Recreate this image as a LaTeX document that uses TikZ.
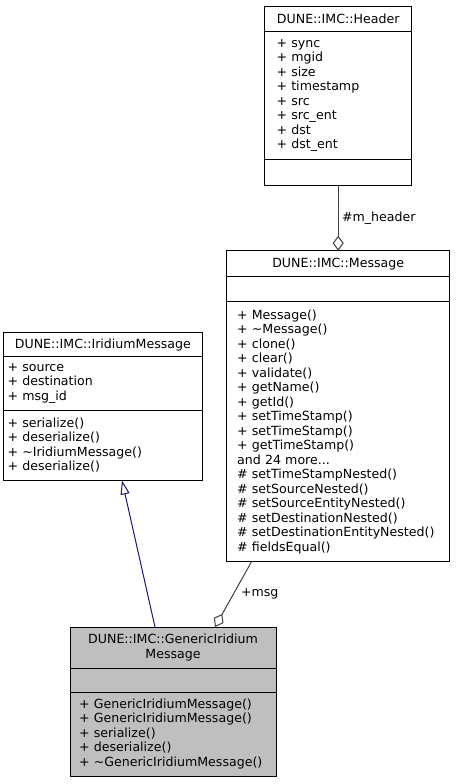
\documentclass[tikz,border=0pt]{standalone}
\usepackage{fontspec}
\setmainfont{DejaVu Sans}
\usetikzlibrary{positioning,arrows.meta}
\definecolor{edgegray}{HTML}{404040}
\definecolor{genblue}{HTML}{191970}
\definecolor{classgray}{HTML}{BFBFBF}
\newcommand{\umlfont}{\fontsize{12.6}{14.5}\selectfont}

\begin{document}
\begin{tikzpicture}[x=1pt, y=-1pt, >=Latex,
  part/.style={draw, fill=white, font=\umlfont, outer sep=0pt, inner ysep=0pt, line width=1pt, align=left},
  hdrpart/.style={part, text width=123.3pt, inner xsep=12pt},
  msgpart/.style={part, text width=202.2pt, inner xsep=10.5pt},
  irdpart/.style={part, text width=190.8pt, inner xsep=4pt},
  genpart/.style={part, fill=classgray, text width=188pt, inner xsep=9pt},
  lbl/.style={font=\umlfont},
  aggr/.style={draw=edgegray, line width=1pt},
  genl/.style={draw=genblue, line width=1pt, -{Triangle[fill=white, length=14pt, width=9pt]}}]
  \useasboundingbox (0,0) rectangle (455,784);
  % DUNE::IMC::Header
  \node[hdrpart, align=center, minimum height=25pt] (hdrT) at (338.2,19.2) {DUNE::IMC::Header};
  \node[hdrpart, minimum height=127.6pt, below=0pt of hdrT] (hdrA) {+ sync\\+ mgid\\+ size\\+ timestamp\\+ src\\+ src\_ent\\+ dst\\+ dst\_ent};
  \node[hdrpart, minimum height=25.7pt, below=0pt of hdrA] (hdrM) {};
  % DUNE::IMC::Message
  \node[msgpart, align=center, minimum height=26pt, below=65.7pt of hdrM] (msgT) {DUNE::IMC::Message};
  \node[msgpart, minimum height=25pt, below=0pt of msgT] (msgA) {};
  \node[msgpart, minimum height=260pt, below=0pt of msgA] (msgM) {+ Message()\\+ \textasciitilde Message()\\+ clone()\\+ clear()\\+ validate()\\+ getName()\\+ getId()\\+ setTimeStamp()\\+ setTimeStamp()\\+ getTimeStamp()\\and 24 more...\\\# setTimeStampNested()\\\# setSourceNested()\\\# setSourceEntityNested()\\\# setDestinationNested()\\\# setDestinationEntityNested()\\\# fieldsEqual()};
  % DUNE::IMC::IridiumMessage
  \node[irdpart, align=center, minimum height=24pt] (irdT) at (102.9,344.7) {DUNE::IMC::IridiumMessage};
  \node[irdpart, minimum height=53.3pt, below=0pt of irdT] (irdA) {+ source\\+ destination\\+ msg\_id};
  \node[irdpart, minimum height=70.5pt, below=0pt of irdA] (irdM) {+ serialize()\\+ deserialize()\\+ \textasciitilde IridiumMessage()\\+ deserialize()};
  % DUNE::IMC::GenericIridiumMessage
  \node[genpart, align=center, minimum height=41pt] (genT) at (173,647.5) {DUNE::IMC::GenericIridium\\Message};
  \node[genpart, minimum height=24pt, below=0pt of genT] (genA) {};
  \node[genpart, minimum height=84pt, below=0pt of genA] (genM) {+ GenericIridiumMessage()\\+ GenericIridiumMessage()\\+ serialize()\\+ deserialize()\\+ \textasciitilde GenericIridiumMessage()};
  % relations
  \draw[aggr, {Diamond[fill=white, length=15pt, width=11pt]}-] (msgT.north) -- node[right, lbl] {\#m\_header} (hdrM.south);
  \draw[aggr, -{Diamond[fill=white, length=15pt, width=11pt]}] ([xshift=-86.7pt]msgM.south) -- node[right=4pt, lbl] {+msg} ([xshift=42pt]genT.north);
  \draw[genl] ([xshift=-18pt]genT.north) -- ([xshift=19.1pt]irdM.south);
\end{tikzpicture}
\end{document}
